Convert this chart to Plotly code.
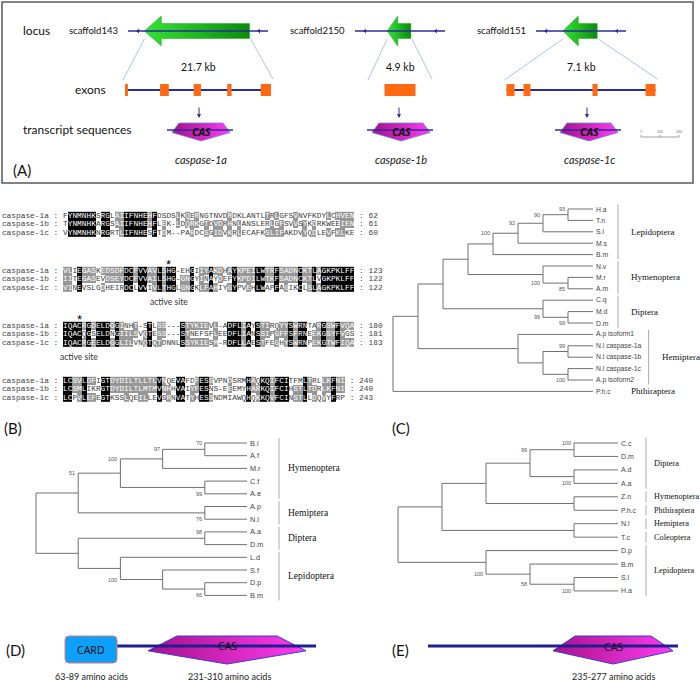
import plotly.graph_objects as go

W, H = 700, 680

# ---------------- data ----------------
# (A) caspase-1 loci
loci = ["scaffold143", "scaffold2150", "scaffold151"]
locus_kb = [21.7, 4.9, 7.1]
transcripts = ["caspase-1a", "caspase-1b", "caspase-1c"]
# exon start/end as a fraction of the drawn exon track
exons = [
    [(0.00, 0.02), (0.24, 0.30), (0.47, 0.52), (0.70, 0.73), (0.93, 1.00)],
    [(0.00, 1.00)],
    [(0.00, 0.054), (0.114, 0.161), (0.577, 0.611), (0.933, 1.00)],
]
row_names = ["locus", "exons", "transcript sequences"]
scale_ticks = ["1", "100", "200"]

# (B) alignment
seq_names = ["caspase-1a", "caspase-1b", "caspase-1c"]
aln_1 = ["FYNMNHKSRGLAIIFNHEHFDSDSLKQERNGTNVDRDKLANTLTRLGFSVNVFKDYLCHVEN",
         "TYNMNHKARGSAIIFNHEHFLEK-LDQRKGTDVDRHNLANSLERLGFSVVSYKDRKWEEIEN",
         "VYNMNHKNRGRTLIFNHESFTDM--PARDCSGIDVKRLECAFKSLIFAKDVYQDLEVFKLKE"]
aln_2 = ["VLIEGASKEDSDFDCFVVAVLSHG-EHGIIYAKDHAYKPEILWTRFSADNCKTLAGKPKLFF",
         "IITEGASEVDSEYDCFVVAILSHG-GNGYINAYDEFYKPDILWTKFSADNCKTLVGKPKLFF",
         "VINEVSLGDHEIRDCLVVIVLTHGLGNGKLFAHIYGYPVEHLWAPFAGIKCLSLAGKPKLFF"]
aln_3 = ["IQACRGDELDGGINHT-STLSS---STYKIEVL-ADFLIAYSTIRQYYSWRNTARGSWFVQA",
         "IQACQGSELDNGIILSVQTESS---STNEFSFLEEDFLIANSSIPGFFSFRNEEKGSYFVGS",
         "IQACRGEELDGGLILVNQTQTDNNLSSYKIESM-RDFLLAESTFEGHYSWRNPEKGTWFIQA"]
aln_4 = ["LCSVLDFIGTDYDILTLLTLVNQEVAFDFESSVPNDSRMHAQKQIFCITFMLTRLLKFNI",
         "LCSMLIKRGTDYDILTLMTMVNHHVAIYFESNS-EEEMYHARKQIFCIHSTLTDRLKFNI",
         "LCPVLEFEGTKSSLQEILLEVSRNVATYHESSNDMIAWQHQKKQVFCINSTLLDQVYFRP"]
aln_blocks = [aln_1, aln_2, aln_3, aln_4]
aln_ends = [[62, 61, 60], [123, 122, 122], [180, 181, 183], [240, 240, 243]]
active_site = [(1, 22), (2, 3)]  # (block, column)
similar = ["ILVM", "FYW", "KRH", "DE", "NQ", "ST", "AG"]

# (C) caspase-1 tree, (D) caspase-1 tree, (E) effector tree; bootstrap + side (u/d)
tree_c = ("((((((((H.a,T.n)93u,S.l)90u,M.s)92u,B.m)100u,(N.v,(M.r,A.m)85d)100d),"
          "(C.q,(M.d,D.m)99d)99d),(A.p isoform1,((N.l caspase-1a,N.l caspase-1b)99u,"
          "(N.l caspase-1c,A.p isoform2)100d))),P.h.c);")
groups_c = [("Lepidoptera", "H.a", "B.m", True), ("Hymenoptera", "N.v", "A.m", True),
            ("Diptera", "C.q", "D.m", True), ("Hemiptera", "A.p isoform1", "A.p isoform2", True),
            ("Phthiraptera", "P.h.c", "P.h.c", False)]
tree_d = ("(((((B.i,A.f)70u,M.r)97u,(C.f,A.e)99d)100u,(A.p,N.l)76d)51u,"
          "((A.a,D.m)98u,(L.d,(S.f,(D.p,B.m)66d))100d));")
groups_d = [("Hymenoptera", "B.i", "A.e", True), ("Hemiptera", "A.p", "N.l", True),
            ("Diptera", "A.a", "D.m", True), ("Lepidoptera", "L.d", "B.m", True)]
tree_e = ("(((((C.c,D.m)100u,(A.d,A.a)100d)99u,(Z.n,P.h.c)),(N.l,T.c)),"
          "(D.p,(B.m,(S.l,H.a)100d)58d)100d);")
groups_e = [("Diptera", "C.c", "A.a", True), ("Hymenoptera", "Z.n", "Z.n", True),
            ("Phthiraptera", "P.h.c", "P.h.c", True), ("Hemiptera", "N.l", "N.l", True),
            ("Coleoptera", "T.c", "T.c", True), ("Lepidoptera", "D.p", "H.a", True)]

# (D)/(E) domain structure
dom_d_len = ["63-89 amino acids", "231-310 amino acids"]
dom_e_len = ["235-277 amino acids"]

# ---------------- helpers ----------------
fig = go.Figure()
shapes, notes = [], []
NAVY = "#2b2b9c"


def set_axes(n, px_x, px_y, ux, uy):
    # ux/uy = (unit value, pixel where it sits, pixels per unit)
    def u(p, ref):
        return ref[0] + (p - ref[1]) / ref[2]
    sx = "" if n == 1 else str(n)
    fig.update_layout(**{
        "xaxis" + sx: dict(domain=[px_x[0] / W, px_x[1] / W], range=[u(px_x[0], ux), u(px_x[1], ux)],
                           visible=False, anchor="y" + sx, fixedrange=True),
        "yaxis" + sx: dict(domain=[1 - px_y[1] / H, 1 - px_y[0] / H], range=[u(px_y[1], uy), u(px_y[0], uy)],
                           visible=False, anchor="x" + sx, fixedrange=True)})
    return "x" + sx, "y" + sx


def txt(x, y, s, size, ref=("x", "y"), color="#111", family="Lato", anchor="center", **kw):
    notes.append(dict(x=x, y=y, xref=ref[0], yref=ref[1], text=s, showarrow=False, xanchor=anchor,
                      font=dict(family=family, size=size, color=color, **kw.pop("f", {})), **kw))


def line(x0, y0, x1, y1, color, width, ref=("x", "y")):
    shapes.append(dict(type="line", x0=x0, y0=y0, x1=x1, y1=y1, xref=ref[0], yref=ref[1],
                       line=dict(color=color, width=width)))


def poly(pts, c0, c1, edge, ew):
    fig.add_trace(go.Scatter(x=[p[0] for p in pts] + [pts[0][0]], y=[p[1] for p in pts] + [pts[0][1]],
                             mode="lines", fill="toself", line=dict(color=edge, width=ew),
                             fillgradient=dict(type="horizontal", colorscale=[[0, c0], [1, c1]]),
                             hoverinfo="skip", showlegend=False))


def pentagon(cx, w, y0, h, inset, side=0.53):
    return [(cx - w / 2 + inset, y0), (cx + w / 2 - inset, y0), (cx + w / 2, y0 + h * side),
            (cx, y0 + h), (cx - w / 2, y0 + h * side)]


def grp(ch):
    for g in similar:
        if ch in g:
            return g
    return ch


set_axes(1, (0, W), (0, H), (0, 0, 1), (0, 0, 1))

# ---------------- (A) ----------------
shapes.append(dict(type="rect", x0=2, y0=2, x1=693, y1=183, xref="x", yref="y",
                   line=dict(color="#5a5a5a", width=1.5)))
for name, y, cx in zip(row_names, [30, 89, 129], [36, 90, 77]):
    txt(cx, y, name, 12)
txt(11, 170, "(A)", 15, anchor="left")

locus_cx = [198, 400, 581]
locus_half = [70, 45, 45]
track_half = [73, 15.5, 74.5]
cas_cx = [201, 401, 589]
for i, name in enumerate(loci):
    cx = locus_cx[i]
    x0, x1 = cx - locus_half[i], cx + locus_half[i]
    line(x0, 31, x1, 31, NAVY, 1.5)
    fig.add_trace(go.Scatter(x=[x0 + 10, x1 - 9], y=[31, 31], mode="markers", hoverinfo="skip",
                             marker=dict(symbol="triangle-left", size=4, color=NAVY), showlegend=False))
    txt(x0 - 8, 30, name, 9.5, anchor="right")
    L = locus_kb[i] * 4.85
    a0, a1 = cx - 1 - L / 2, cx - 1 + L / 2
    hl = min(17, 0.45 * L)
    poly([(a0, 31), (a0 + hl, 16), (a0 + hl, 23.5), (a1, 23.5), (a1, 38.5), (a0 + hl, 38.5), (a0 + hl, 46)],
         "#35e335", "#0c8a0c", "#22aa22", 0.5)
    t0, t1 = cx - track_half[i], cx + track_half[i]
    spread = max(track_half[i] + 2, 32)
    line(a0, 39, cx - spread, 80, "#9ec0e8", 0.9)
    line(a1 + 1, 39, cx + spread, 79, "#9ec0e8", 0.9)
    txt(cx, 67, f"{locus_kb[i]} kb", 10.5)
    if len(exons[i]) > 1:
        line(t0, 90, t1, 90, NAVY, 1.8)
    for e0, e1 in exons[i]:
        shapes.append(dict(type="rect", x0=t0 + e0 * (t1 - t0), x1=t0 + e1 * (t1 - t0), y0=84, y1=96,
                           xref="x", yref="y", fillcolor="#ff6a10", line=dict(width=0)))
    c = cas_cx[i]
    notes.append(dict(x=c - 2, y=118, ax=c - 2, ay=106, axref="x", ayref="y", xref="x", yref="y",
                      text="", showarrow=True, arrowhead=2, arrowsize=0.8, arrowwidth=1, arrowcolor=NAVY))
    line(c - 34, 130, c + 32, 130, NAVY, 1.5)
    poly(pentagon(c, 58, 123, 18, 7), "#a30f8c", "#ff3cf0", "#6a8ad8", 0.8)
    txt(c, 131.5, "CAS", 10.5, f=dict(weight="bold", style="italic"), family="Noto Sans")
    txt(c, 159, transcripts[i], 11, color="#222", f=dict(style="italic"))

# scale bar
line(641, 137, 679, 137, "#888", 0.8)
for k, s in enumerate(scale_ticks):
    xk = 641 + 19 * k
    line(xk, 135, xk, 137, "#888", 0.8)
    txt(xk, 132, s, 3.5, color="#777")

# ---------------- (B) alignment ----------------
CW, RH = 4.7, 8.4
BP = 55 / RH
axa = set_axes(2, (0, 420), (195, 420), (0, 63 + CW / 2, CW), (0, 216, RH))
for b, rows in enumerate(aln_blocks):
    n = len(rows[0])
    z, tx, ty, tt, tc = [], [], [], [], []
    for r, s in enumerate(rows):
        zr = []
        for c, ch in enumerate(s):
            col = [q[c] for q in rows]
            if ch == "-":
                lvl = None
            elif col.count(ch) == 3:
                lvl = 2
            elif col.count(ch) == 2 or sum(grp(q) == grp(ch) for q in col) >= 2:
                lvl = 1
            else:
                lvl = None
            zr.append(lvl)
            tx.append(c)
            ty.append(b * BP + r)
            tt.append(ch)
            tc.append("white" if lvl else "#3a3a3a")
        z.append(zr)
    fig.add_trace(go.Heatmap(x=list(range(n)), y=[b * BP + r for r in range(3)], z=z, zmin=1, zmax=2,
                             colorscale=[[0, "#979797"], [0.5, "#979797"], [0.5, "#000"], [1, "#000"]],
                             showscale=False, hoverinfo="skip", xaxis=axa[0], yaxis=axa[1]))
    fig.add_trace(go.Scatter(x=tx, y=ty, text=tt, mode="text", hoverinfo="skip", showlegend=False,
                             textfont=dict(family="Liberation Mono", size=CW / 0.6, color=tc),
                             xaxis=axa[0], yaxis=axa[1]))
    ends = [": %d" % e for e in aln_ends[b]]
    fig.add_trace(go.Scatter(x=[-7.5] * 3 + [n + 0.5 + len(e) / 2 for e in ends],
                             y=[b * BP + r for r in range(3)] * 2,
                             text=[s + " :" for s in seq_names] + ends, mode="text", hoverinfo="skip",
                             showlegend=False, textfont=dict(family="Liberation Mono", size=CW / 0.6, color="#444"),
                             xaxis=axa[0], yaxis=axa[1]))
for b, c in active_site:
    txt(c, b * BP - 0.8, "*", 13, ref=axa, family="Liberation Sans", color="#000")
    txt(c, b * BP + 3.7, "active site", 8.5, ref=axa, color="#333")

txt(2, 428, "(B)", 15, anchor="left")
txt(390, 428, "(C)", 15, anchor="left")


# ---------------- trees ----------------
def parse(s):
    s = s.strip().rstrip(";")
    pos = 0

    def read():
        nonlocal pos
        st = pos
        while pos < len(s) and s[pos] not in "(),":
            pos += 1
        return s[st:pos]

    def node():
        nonlocal pos
        if s[pos] == "(":
            pos += 1
            kids = [node()]
            while s[pos] == ",":
                pos += 1
                kids.append(node())
            pos += 1
            return {"kids": kids, "label": read()}
        return {"kids": [], "label": read()}
    return node()


def draw_tree(nw, groups, n, px_x, px_y, root_px, step, y0, dy, fs, fb, fg, bar_min, gap):
    ref = set_axes(n, px_x, px_y, (0, root_px, step), (0, y0, dy))
    root = parse(nw)

    def height(nd):
        nd["h"] = 0 if not nd["kids"] else 1 + max(height(k) for k in nd["kids"])
        return nd["h"]
    top = height(root)
    leaves = []

    def place(nd):
        nd["x"] = top - nd["h"]
        if not nd["kids"]:
            nd["y"] = len(leaves)
            leaves.append(nd)
        else:
            for k in nd["kids"]:
                place(k)
            nd["y"] = (nd["kids"][0]["y"] + nd["kids"][-1]["y"]) / 2
    place(root)

    xs, ys = [], []

    def walk(nd):
        if not nd["kids"]:
            return
        k0, k1 = nd["kids"][0], nd["kids"][-1]
        xs.extend([nd["x"], nd["x"], None])
        ys.extend([k0["y"], k1["y"], None])
        for k in nd["kids"]:
            xs.extend([nd["x"], k["x"], None])
            ys.extend([k["y"], k["y"], None])
            walk(k)
        if nd["label"]:
            yb = k0["y"] if nd["label"][-1] == "u" else k1["y"]
            txt(nd["x"], yb, nd["label"][:-1], fb, ref=ref, family="Liberation Sans", color="#555",
                anchor="right", xshift=-1)
    walk(root)
    fig.add_trace(go.Scatter(x=xs, y=ys, mode="lines", line=dict(color="#707070", width=1), hoverinfo="skip",
                             showlegend=False, xaxis=ref[0], yaxis=ref[1]))
    for lf in leaves:
        txt(top, lf["y"], lf["label"], fs, ref=ref, family="Liberation Sans", color="#444", anchor="left", xshift=1)
    idx = {lf["label"]: i for i, lf in enumerate(leaves)}
    for name, first, last, bar in groups:
        i0, i1 = idx[first], idx[last]
        wmax = max(len(leaves[i]["label"]) for i in range(i0, i1 + 1)) * fs * 0.5
        off = max(bar_min, wmax + 8)
        if bar:
            shapes.append(dict(type="line", xref=ref[0], yref=ref[1], xsizemode="pixel", xanchor=top,
                               x0=off, x1=off, y0=i0 - 0.4, y1=i1 + 0.4, line=dict(color="#aaa", width=1)))
        txt(top, (i0 + i1) / 2, name, fg, ref=ref, family="Liberation Serif", color="#111",
            anchor="left", xshift=off + gap)


draw_tree(tree_c, groups_c, 3, (380, 700), (195, 400), 393, 25, 209, 11.4, 6.8, 5.5, 9, 25, 11)
draw_tree(tree_d, groups_d, 4, (0, 360), (430, 610), 36, 42.2, 443, 12.7, 7.3, 5.5, 9.5, 32, 7)
draw_tree(tree_e, groups_e, 5, (385, 700), (430, 605), 398, 44, 443, 13.45, 7, 5.5, 8.3, 28, 6)

# ---------------- (D) / (E) domains ----------------
txt(4, 650, "(D)", 15, anchor="left")
txt(390, 650, "(E)", 15, anchor="left")
line(117, 646, 316, 646, "#1f1f8f", 3)
shapes.append(dict(type="path", xref="x", yref="y", fillcolor="#0ea0f8", line=dict(color="#e07a7a", width=1),
                   path="M 69,636 L 113,636 Q 117,636 117,640 L 117,659 Q 117,663 113,663 L 69,663 "
                        "Q 65,663 65,659 L 65,640 Q 65,636 69,636 Z"))
txt(91, 650, "CARD", 10.5, family="Noto Sans")
poly(pentagon(227, 158, 636, 28, 29), "#a8108a", "#ff3cf0", "#3a3ad0", 1)
txt(227, 646, "CAS", 10.5, family="Noto Sans")
line(428, 646, 678, 646, "#1f1f8f", 3)
poly(pentagon(613, 120, 636, 28, 22), "#a8108a", "#ff3cf0", "#3a3ad0", 1)
txt(613, 647, "CAS", 10.5, family="Noto Sans")
for s, x in zip(dom_d_len + dom_e_len, [91, 229, 613]):
    txt(x, 676, s, 9, color="#222")

fig.update_layout(width=W, height=H, margin=dict(l=0, r=0, t=0, b=0), paper_bgcolor="white",
                  plot_bgcolor="rgba(0,0,0,0)", showlegend=False, shapes=shapes, annotations=notes)
fig.write_html("out.html", config={"displayModeBar": False},
               post_script="document.body.style.margin='0px';")
